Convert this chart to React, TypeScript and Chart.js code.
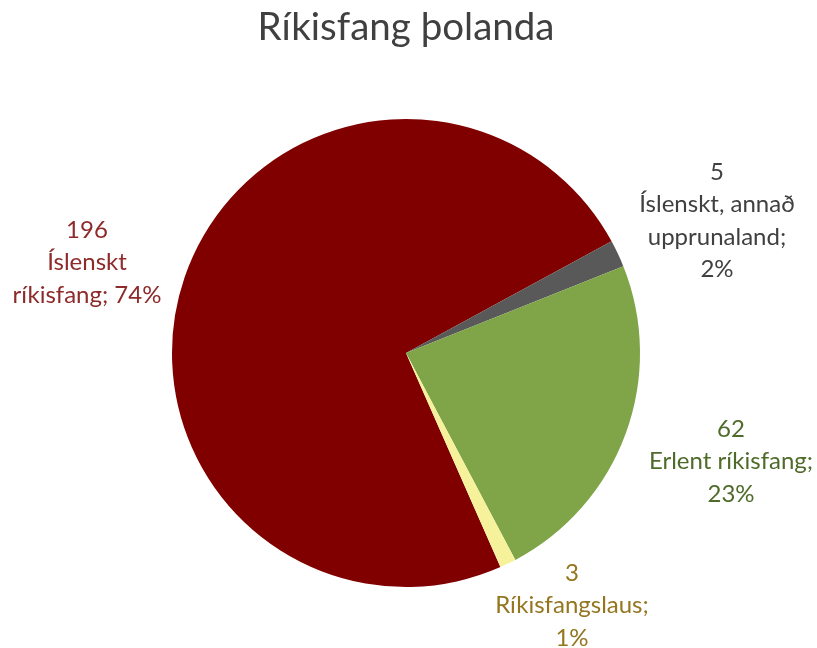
import React, { useEffect, useRef } from "react";
import { Chart, registerables } from "chart.js";

Chart.register(...registerables);

const categories = ["Íslenskt ríkisfang", "Íslenskt, annað upprunaland", "Erlent ríkisfang", "Ríkisfangslaus"];
const values = [196, 5, 62, 3];
const percents = ["74%", "2%", "23%", "1%"];
const sliceColors = ["#800000", "#595959", "#7FA548", "#F6F29C"];
const labelColors = ["#8E2A2A", "#404040", "#4F6B2A", "#94761F"];
const labelLines = [
  ["196", "Íslenskt", "ríkisfang; 74%"],
  ["5", "Íslenskt, annað", "upprunaland;", "2%"],
  ["62", "Erlent ríkisfang;", "23%"],
  ["3", "Ríkisfangslaus;", "1%"],
];
const labelAnchors = [
  [87, 230],
  [717, 172],
  [731, 429],
  [572, 573],
];
const titleText = "Ríkisfang þolanda";

const FONT = "Lato, 'Open Sans', sans-serif";

const labelPlugin = {
  id: "customLabels",
  afterDraw(chart: any) {
    const ctx = chart.ctx;
    ctx.save();
    ctx.textAlign = "center";
    ctx.textBaseline = "middle";
    ctx.fillStyle = "#404040";
    ctx.font = `38.5px ${FONT}`;
    ctx.fillText(titleText, 406, 28);
    ctx.font = `24px ${FONT}`;
    labelLines.forEach((lines, i) => {
      ctx.fillStyle = labelColors[i];
      const [x, y] = labelAnchors[i];
      lines.forEach((line, j) => {
        ctx.fillText(line, x, y + j * 32.5);
      });
    });
    ctx.restore();
  },
};

export default function App() {
  const ref = useRef<HTMLCanvasElement>(null);
  useEffect(() => {
    document.body.style.margin = "0";
    const chart = new Chart(ref.current!, {
      type: "pie",
      data: {
        labels: categories,
        datasets: [
          {
            data: values,
            backgroundColor: sliceColors,
            borderWidth: 0,
          },
        ],
      },
      options: {
        animation: false,
        responsive: false,
        rotation: 156.2,
        layout: { padding: { top: 119, bottom: 61, left: 172, right: 177 } },
        plugins: {
          legend: { display: false },
          tooltip: { enabled: false },
          title: { display: false },
        },
      },
      plugins: [labelPlugin],
    });
    return () => chart.destroy();
  }, []);
  return (
    <div style={{ width: 817, height: 648, background: "#fff" }}>
      <canvas ref={ref} width={817} height={648} />
    </div>
  );
}
